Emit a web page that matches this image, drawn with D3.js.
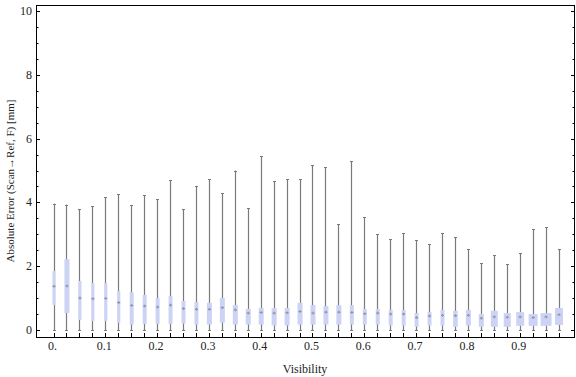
<!DOCTYPE html>
<html>
<head>
<meta charset="utf-8">
<script src="https://cdn.jsdelivr.net/npm/d3@7"></script>
<style>
  body { margin: 0; background: #fff; }
  text { font-family: "Liberation Serif", "DejaVu Serif", serif; fill: #222; }
</style>
</head>
<body>
<div id="chart"></div>
<script>
// box centres (visibility)
const visibility = [0.000, 0.025, 0.050, 0.075, 0.100, 0.125, 0.150, 0.175, 0.200, 0.225,
                    0.250, 0.275, 0.300, 0.325, 0.350, 0.375, 0.400, 0.425, 0.450, 0.475,
                    0.500, 0.525, 0.550, 0.575, 0.600, 0.625, 0.650, 0.675, 0.700, 0.725,
                    0.750, 0.775, 0.800, 0.825, 0.850, 0.875, 0.900, 0.925, 0.950, 0.975];

// absolute error statistics [mm]
const whiskerMax = [3.96, 3.93, 3.78, 3.88, 4.16, 4.26, 3.91, 4.22, 4.10, 4.69,
                    3.78, 4.52, 4.72, 4.28, 5.00, 3.81, 5.44, 4.66, 4.72, 4.72,
                    5.16, 5.10, 3.31, 5.29, 3.53, 3.00, 2.84, 3.03, 2.81, 2.69,
                    3.03, 2.91, 2.53, 2.09, 2.34, 2.06, 2.41, 3.16, 3.22, 2.53];
const q3 = [1.85, 2.22, 1.54, 1.47, 1.47, 1.22, 1.18, 1.10, 1.00, 1.06,
            0.91, 0.88, 0.85, 1.00, 0.78, 0.66, 0.69, 0.69, 0.69, 0.85,
            0.78, 0.75, 0.78, 0.78, 0.66, 0.66, 0.63, 0.63, 0.53, 0.56,
            0.63, 0.60, 0.63, 0.50, 0.60, 0.53, 0.56, 0.50, 0.53, 0.69];
const median = [1.37, 1.38, 1.00, 0.98, 0.99, 0.86, 0.77, 0.75, 0.72, 0.78,
                0.67, 0.65, 0.65, 0.70, 0.63, 0.53, 0.55, 0.53, 0.54, 0.58,
                0.53, 0.56, 0.56, 0.55, 0.51, 0.53, 0.50, 0.50, 0.39, 0.44,
                0.46, 0.45, 0.46, 0.37, 0.41, 0.40, 0.41, 0.39, 0.41, 0.48];
const q1 = [0.78, 0.53, 0.31, 0.28, 0.28, 0.22, 0.17, 0.19, 0.19, 0.19,
            0.20, 0.17, 0.17, 0.23, 0.17, 0.17, 0.17, 0.14, 0.14, 0.17,
            0.17, 0.17, 0.17, 0.17, 0.17, 0.17, 0.14, 0.14, 0.10, 0.14,
            0.14, 0.10, 0.14, 0.10, 0.10, 0.10, 0.13, 0.13, 0.13, 0.16];
const whiskerMin = [0, 0, 0, 0, 0, 0, 0, 0, 0, 0,
                    0, 0, 0, 0, 0, 0, 0, 0, 0, 0,
                    0, 0, 0, 0, 0, 0, 0, 0, 0, 0,
                    0, 0, 0, 0, 0, 0, 0, 0, 0, 0];
// box width in visibility units (varies per bin)
const boxWidth = [0.006, 0.0097, 0.006, 0.006, 0.006, 0.006, 0.0077, 0.0077, 0.0077, 0.0077,
                  0.0077, 0.0077, 0.0097, 0.0097, 0.0097, 0.0097, 0.0097, 0.0097, 0.0097, 0.0097,
                  0.0097, 0.0097, 0.0097, 0.0077, 0.0077, 0.0077, 0.0077, 0.0077, 0.0077, 0.0077,
                  0.0077, 0.009, 0.0097, 0.0097, 0.0135, 0.0135, 0.0154, 0.0174, 0.0212, 0.0154];

const xTickLabels = [0, 0.1, 0.2, 0.3, 0.4, 0.5, 0.6, 0.7, 0.8, 0.9];
const yTickLabels = [0, 2, 4, 6, 8, 10];

const width = 576, height = 377;
const frame = {left: 36, right: 575, top: 5, bottom: 337};

const data = visibility.map((v, i) => ({
    v: v, lo: whiskerMin[i], q1: q1[i], med: median[i], q3: q3[i], hi: whiskerMax[i], w: boxWidth[i]
}));

const svg = d3.select('#chart').append('svg')
    .attr('width', width)
    .attr('height', height);

const xScale = d3.scaleLinear()
    .domain([-0.0338, 1.0068])
    .range([frame.left, frame.right]);

const yScale = d3.scaleLinear()
    .domain([-0.22, 10.19])
    .range([frame.bottom, frame.top]);

// axes (ticks inward, like a Mathematica frame)
const xAxis = d3.axisTop(xScale)
    .tickValues(visibility)
    .tickSize(4)
    .tickFormat('');
svg.append('g')
    .attr('transform', `translate(0,${frame.bottom})`)
    .call(xAxis)
    .call(g => g.select('.domain').remove())
    .call(g => g.selectAll('line').attr('stroke', '#000').attr('shape-rendering', 'crispEdges'));

svg.append('g')
    .selectAll('text')
    .data(xTickLabels)
    .join('text')
    .attr('x', d => xScale(d) - 1)
    .attr('y', frame.bottom + 13)
    .attr('text-anchor', 'middle')
    .style('font-size', '12px')
    .text(d => d === 0 ? '0.' : d3.format('.1f')(d));

const yMinor = d3.range(0, 10.01, 0.5);
function yTicks(side) {
    const dir = side === 'left' ? 1 : -1;
    const x0 = side === 'left' ? frame.left : frame.right;
    svg.append('g')
        .selectAll('line')
        .data(yMinor)
        .join('line')
        .attr('x1', x0)
        .attr('x2', d => x0 + dir * (d % 2 === 0 ? 4 : 2.5))
        .attr('y1', d => Math.round(yScale(d)) + 0.5)
        .attr('y2', d => Math.round(yScale(d)) + 0.5)
        .attr('stroke', '#000');
}
yTicks('left');
yTicks('right');

svg.append('g')
    .selectAll('text')
    .data(yTickLabels)
    .join('text')
    .attr('x', frame.left - 4)
    .attr('y', d => yScale(d) + 4)
    .attr('text-anchor', 'end')
    .style('font-size', '12px')
    .text(d => d);

// frame
svg.append('rect')
    .attr('x', frame.left + 0.5)
    .attr('y', frame.top + 0.5)
    .attr('width', frame.right - frame.left - 1)
    .attr('height', frame.bottom - frame.top)
    .attr('fill', 'none')
    .attr('stroke', '#000');

// box-whisker marks
const boxes = svg.append('g').selectAll('g')
    .data(data)
    .join('g');

boxes.append('line')
    .attr('x1', d => Math.round(xScale(d.v)) + 0.5)
    .attr('x2', d => Math.round(xScale(d.v)) + 0.5)
    .attr('y1', d => yScale(d.lo))
    .attr('y2', d => yScale(d.hi))
    .attr('stroke', '#7a7a7a')
    .attr('stroke-width', 1.2);

// caps
['hi', 'lo'].forEach(k => {
    boxes.append('line')
        .attr('x1', d => Math.round(xScale(d.v)) - 1)
        .attr('x2', d => Math.round(xScale(d.v)) + 2)
        .attr('y1', d => Math.round(yScale(d[k])) + 0.5)
        .attr('y2', d => Math.round(yScale(d[k])) + 0.5)
        .attr('stroke', '#7a7a7a')
        .attr('stroke-width', 1);
});

boxes.append('rect')
    .attr('x', d => xScale(d.v) + 0.5 - (xScale(d.w) - xScale(0)) / 2)
    .attr('width', d => xScale(d.w) - xScale(0))
    .attr('y', d => yScale(d.q3))
    .attr('height', d => yScale(d.q1) - yScale(d.q3))
    .attr('fill', '#ccd3f5');

// median marker
boxes.append('line')
    .attr('x1', d => xScale(d.v) - 1)
    .attr('x2', d => xScale(d.v) + 2)
    .attr('y1', d => yScale(d.med))
    .attr('y2', d => yScale(d.med))
    .attr('stroke', '#8a8a9a')
    .attr('stroke-width', 1.2);
boxes.append('line')
    .attr('x1', d => xScale(d.v) + 0.5)
    .attr('x2', d => xScale(d.v) + 0.5)
    .attr('y1', d => yScale(d.med) - 1.5)
    .attr('y2', d => yScale(d.med) + 1.5)
    .attr('stroke', '#9a9aaa')
    .attr('stroke-width', 1);

// axis titles
svg.append('text')
    .attr('transform', `translate(14,181) rotate(-90)`)
    .attr('text-anchor', 'middle')
    .style('font-size', '11px')
    .text('Absolute Error (Scan\u2192Ref, F) [mm]');

svg.append('text')
    .attr('x', 305)
    .attr('y', 373)
    .attr('text-anchor', 'middle')
    .style('font-size', '12px')
    .text('Visibility');
</script>
</body>
</html>
